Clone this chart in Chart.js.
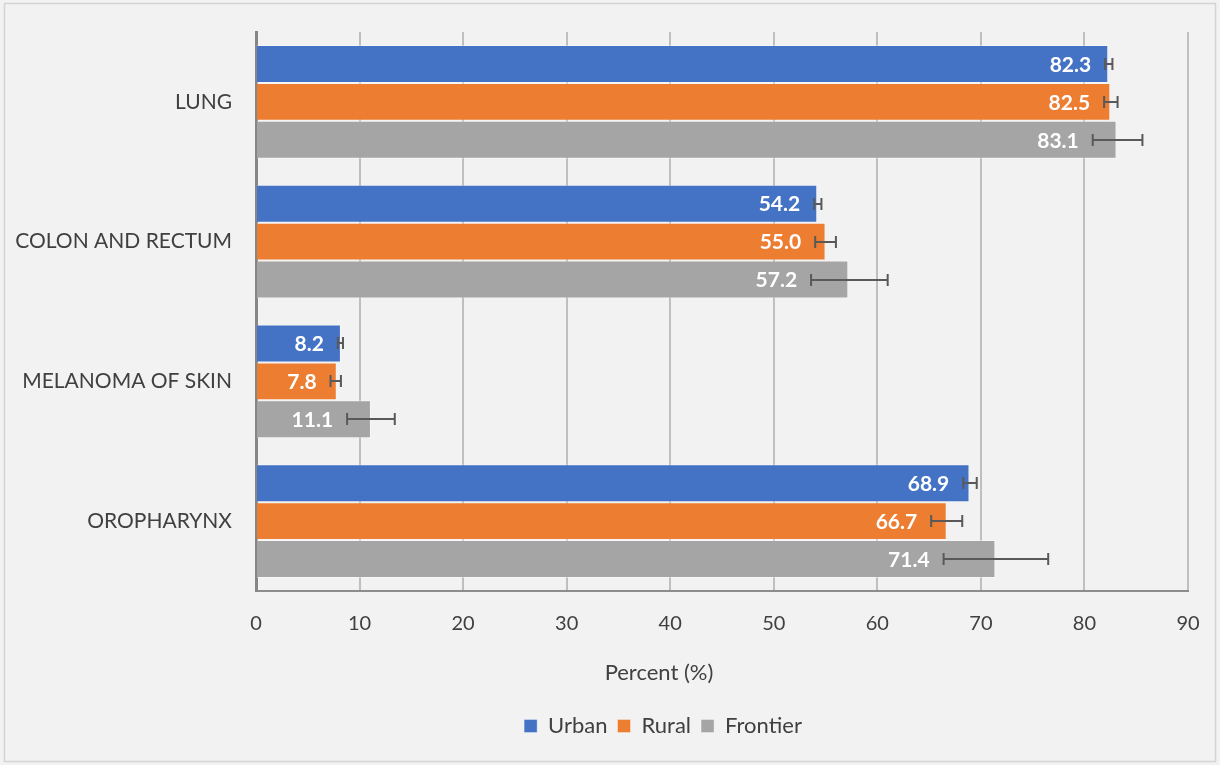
<!DOCTYPE html>
<html><head><meta charset="utf-8">
<script src="https://cdn.jsdelivr.net/npm/chart.js@4.4.1/dist/chart.umd.min.js"></script>
<style>html,body{margin:0;padding:0;background:#f2f2f2;}canvas{display:block}</style>
</head><body>
<canvas id="c" width="1220" height="765"></canvas>
<script>
const categories = ['LUNG', 'COLON AND RECTUM', 'MELANOMA OF SKIN', 'OROPHARYNX'];
const seriesNames = ['Urban', 'Rural', 'Frontier'];
const urban = [82.3, 54.2, 8.2, 68.9];
const rural = [82.5, 55.0, 7.8, 66.7];
const frontier = [83.1, 57.2, 11.1, 71.4];
const urbanLow = [82.0, 53.9, 7.9, 68.3];
const urbanHigh = [82.7, 54.6, 8.4, 69.6];
const ruralLow = [81.9, 54.0, 7.2, 65.2];
const ruralHigh = [83.2, 56.0, 8.2, 68.2];
const frontierLow = [80.8, 53.6, 8.8, 66.4];
const frontierHigh = [85.6, 61.0, 13.4, 76.5];
const xTicks = [0, 10, 20, 30, 40, 50, 60, 70, 80, 90];
const axisTitle = 'Percent (%)';

const colors = ['#4472C4', '#ED7D31', '#A5A5A5'];
const values = [urban, rural, frontier];
const lows = [urbanLow, ruralLow, frontierLow];
const highs = [urbanHigh, ruralHigh, frontierHigh];

const bgPlugin = {
  id: 'bg',
  afterLayout(chart) {
    if (chart.legend) { chart.legend.left = 138; }
  },
  beforeDraw(chart) {
    const ctx = chart.ctx;
    ctx.save();
    ctx.fillStyle = '#f2f2f2';
    ctx.fillRect(0, 0, chart.width, chart.height);
    ctx.strokeStyle = '#d4d4d4';
    ctx.lineWidth = 1.5;
    ctx.strokeRect(4.5, 3.5, chart.width - 9, chart.height - 7);
    ctx.restore();
  },
  afterDraw(chart) {
    const ctx = chart.ctx;
    ctx.save();
    ctx.fillStyle = '#404040';
    ctx.font = '22px Lato';
    ctx.textAlign = 'center';
    ctx.textBaseline = 'middle';
    ctx.fillText(axisTitle, 659, 673);
    ctx.restore();
  }
};

const labelsAndErrors = {
  id: 'labelsAndErrors',
  afterDatasetsDraw(chart) {
    const ctx = chart.ctx;
    const xs = chart.scales.x;
    ctx.save();
    chart.data.datasets.forEach((ds, di) => {
      const meta = chart.getDatasetMeta(di);
      meta.data.forEach((el, i) => {
        const xl = xs.getPixelForValue(lows[di][i]);
        const right = Math.min(el.x - 17, xl - 14);
        ctx.fillStyle = '#ffffff';
        ctx.font = 'bold 21px Lato';
        ctx.textAlign = 'right';
        ctx.textBaseline = 'middle';
        ctx.fillText(ds.data[i].toFixed(1), right, el.y + 1);
      });
    });
    ctx.strokeStyle = '#595959';
    ctx.lineWidth = 2;
    chart.data.datasets.forEach((ds, di) => {
      const meta = chart.getDatasetMeta(di);
      meta.data.forEach((el, i) => {
        const xl = xs.getPixelForValue(lows[di][i]);
        const xh = xs.getPixelForValue(highs[di][i]);
        const y = Math.round(el.y);
        ctx.beginPath();
        ctx.moveTo(xl, y); ctx.lineTo(xh, y);
        ctx.moveTo(xl, y - 6); ctx.lineTo(xl, y + 6);
        ctx.moveTo(xh, y - 6); ctx.lineTo(xh, y + 6);
        ctx.stroke();
      });
    });
    ctx.restore();
  }
};

new Chart(document.getElementById('c'), {
  type: 'bar',
  data: {
    labels: categories,
    datasets: seriesNames.map((n, k) => ({
      label: n,
      data: values[k],
      backgroundColor: colors[k],
      borderColor: 'rgba(255,255,255,0.35)',
      borderWidth: 1,
      categoryPercentage: 0.815,
      barPercentage: 1.0
    }))
  },
  options: {
    indexAxis: 'y',
    responsive: false,
    animation: false,
    devicePixelRatio: 1,
    layout: { padding: { left: 0, right: 32, top: 32, bottom: 18 } },
    plugins: {
      tooltip: { enabled: false },
      legend: {
        position: 'bottom',
        labels: {
          boxWidth: 13, boxHeight: 13, padding: 10,
          color: '#404040',
          font: { family: 'Lato', size: 22 }
        }
      }
    },
    scales: {
      x: {
        min: 0, max: 90,
        afterBuildTicks(s) { s.ticks = xTicks.map(v => ({ value: v })); },
        ticks: { padding: 21, color: '#404040', font: { family: 'Lato', size: 20 } },
        grid: { color: '#bfbfbf', lineWidth: 2, drawTicks: false },
        border: { color: '#8c8c8c', width: 2 },
        title: { display: false },
        afterFit(s) { s.height = 114; s.paddingLeft = 0; s.paddingRight = 0; }
      },
      y: {
        ticks: { padding: 24, color: '#404040', font: { family: 'Lato', size: 21 } },
        grid: { display: false, drawTicks: false },
        border: { color: '#868686', width: 3 },
        afterFit(s) { s.width = 256; s.paddingTop = 0; s.paddingBottom = 0; }
      }
    }
  },
  plugins: [bgPlugin, labelsAndErrors]
});
</script>
</body></html>
